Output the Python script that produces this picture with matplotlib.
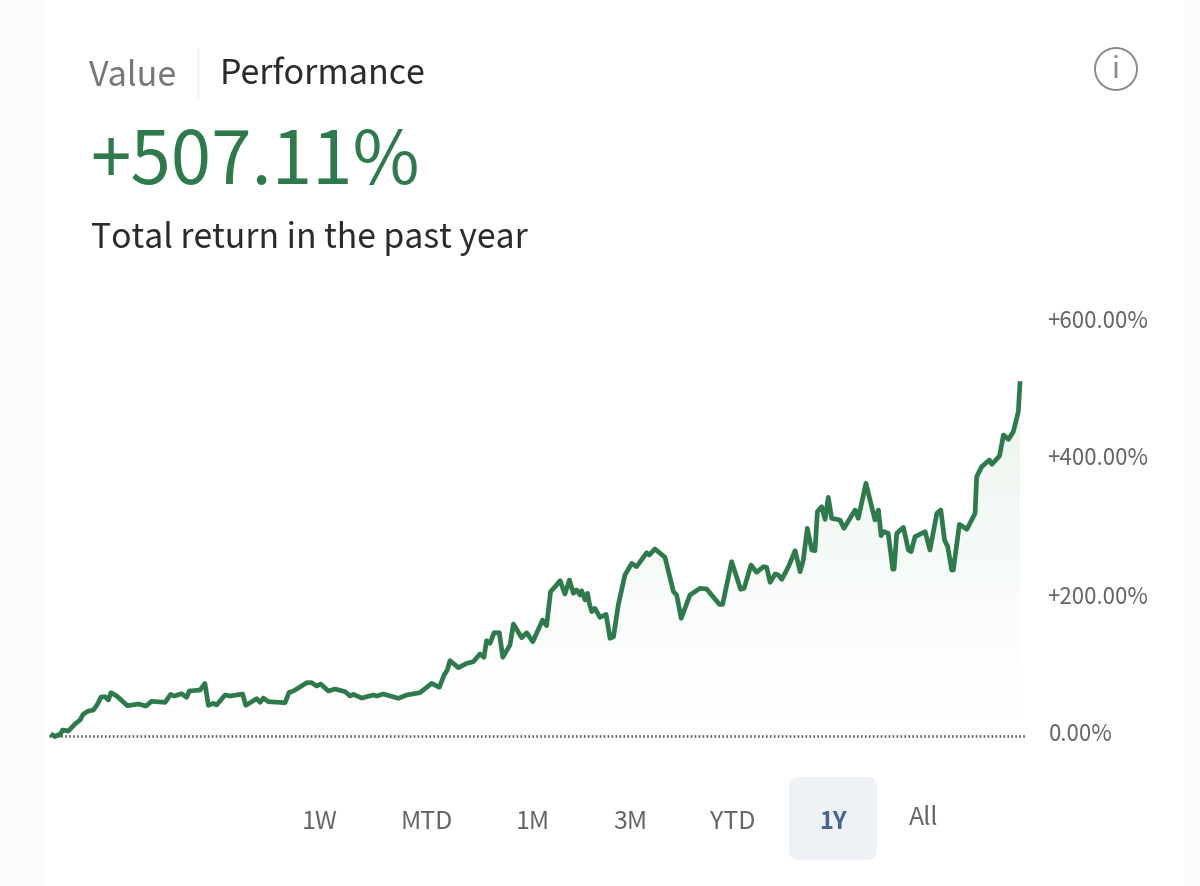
import numpy as np
import matplotlib
matplotlib.use("Agg")
import matplotlib.pyplot as plt
from matplotlib.patches import FancyBboxPatch, Circle, Polygon, Rectangle
from matplotlib.lines import Line2D
from matplotlib.transforms import ScaledTranslation

days = [0.25,1.13,2.0,3.0,4.0,6.15,8.66,10.55,11.8,13.7,15.6,17.1,18.5,20.0,21.2,22.2,24.4,28.4,32.5,35.4,37.5,42.6,44.7,46.0,48.8,50.7,51.7,55.8,57.6,58.9,60.8,62.0,65.2,67.1,71.8,73.0,77.1,78.4,79.6,81.5,87.8,89.3,90.9,96.0,97.8,99.7,101.2,104.1,106.6,110.4,112.3,113.5,116.7,121.1,122.3,124.8,130.5,133.6,138.6,143.0,145.9,147.7,148.9,149.9,153.1,156.2,158.7,161.2,162.7,163.7,165.0,166.5,168.5,169.8,172.5,173.8,176.9,178.8,181.1,
184.8,186.3,187.8,189.5,191.4,193.2,194.9,196.4,197.6,198.9,199.5,200.8,201.7,202.4,203.3,204.5,206.4,208.7,210.2,211.5,213.3,215.8,218.4,220.2,224.0,225.0,227.1,230.9,234.1,235.3,237.0,240.3,244.1,246.6,251.4,252.6,256.0,259.4,260.7,263.3,265.4,268.0,269.2,270.5,272.4,273.6,274.9,277.4,279.9,281.8,283.0,284.5,286.2,287.4,288.3,289.9,291.2,292.4,293.7,296.8,298.3,302.5,303.7,306.6,310.0,311.3,312.3,313.4,315.0,316.7,317.2,318.2,320.7,322.6,323.6,325.1,328.9,330.7,333.3,334.8,336.2,337.4,338.9,339.5,341.8,344.6,347.7,348.3,350.2,353.1,354.0,356.9,358.4,360.3,362.1,364.0,364.6]
returns = [1.4,-1.0,1.4,1.4,8.6,7.2,17.2,23.0,31.6,35.9,37.4,45.5,56.1,56.6,51.8,62.3,57.5,43.6,46.0,43.1,49.9,48.4,59.9,57.5,60.9,55.6,64.7,66.2,75.7,44.1,47.0,44.6,59.0,57.5,60.4,44.1,53.7,48.4,54.6,49.4,47.9,62.8,64.7,76.7,76.7,71.9,74.8,64.7,67.6,63.8,57.5,59.9,54.6,59.0,57.5,60.4,54.2,59.0,62.3,75.7,70.0,87.7,94.9,108.4,98.3,104.5,106.9,118.0,113.2,137.1,133.3,148.6,148.6,113.2,130.9,161.1,141.4,148.6,135.7,
166.9,158.7,207.7,214.8,223.5,204.3,224.5,205.3,210.1,202.9,209.1,195.7,205.3,190.9,178.9,183.7,170.7,175.1,140.5,142.9,188.5,231.6,248.4,243.6,263.8,260.4,269.1,257.1,207.7,202.9,169.3,202.9,212.5,211.5,189.4,189.4,250.8,211.0,212.5,246.0,235.5,243.6,242.7,221.1,233.1,231.6,225.4,243.6,266.6,236.4,253.2,298.8,267.6,266.6,322.8,330.0,311.7,343.4,313.2,310.8,298.8,325.2,313.2,363.5,310.8,325.2,288.2,294.0,291.6,239.8,240.3,291.6,300.2,267.6,265.2,286.8,294.0,267.6,320.4,325.2,282.0,272.4,238.8,238.8,304.5,297.4,320.4,373.1,387.5,397.1,390.9,402.9,433.1,426.8,437.9,466.6,507.11]
y_ticks = [0, 200, 400, 600]
y_labels = ["0.00%", "+200.00%", "+400.00%", "+600.00%"]
ranges = ["1W", "MTD", "1M", "3M", "YTD", "1Y", "All"]
range_x = [320, 427, 533, 630, 733, 833, 924]

W, H = 1200, 886
FONT = ["Noto Sans CJK JP", "DejaVu Sans"]
GREEN = "#2f7a4d"

fig = plt.figure(figsize=(W / 100, H / 100), dpi=100, facecolor="#fbfbfb")
fig.add_artist(Rectangle((45, 0), 1140, H, transform=None, facecolor="white", edgecolor="none", zorder=-5))
ax = fig.add_axes([52 / W, (H - 736) / H, 969 / W, 417 / H])
ax.set_xlim(0, 365)
ax.set_ylim(0, 600)
ax.patch.set_alpha(0)
for s in ax.spines.values():
    s.set_visible(False)
ax.set_xticks([])
ax.yaxis.tick_right()
ax.set_yticks(y_ticks)
ax.set_yticklabels(y_labels, family=FONT, fontsize=16, color="#666666")
ax.tick_params(axis="y", length=0, pad=18.5)
label_shift = [(2.0, 4.0), (0, 2.2), (0, 2.2), (0, 0)]
for lab, (dx, dy) in zip(ax.get_yticklabels(), label_shift):
    lab.set_transform(lab.get_transform() + ScaledTranslation(dx / 100, dy / 100, fig.dpi_scale_trans))

# gradient area under the curve: opaque white-to-pale-green ramp, clipped to the curve
t = np.linspace(0, 1, 512)
strength = np.clip((t - 0.05) / 0.95, 0, 1) ** 1.25 * 0.42
rgb = np.ones((512, 1, 3))
rgb[:, 0, 0] = 1 - strength * 0.20
rgb[:, 0, 1] = 1 - strength * 0.10
rgb[:, 0, 2] = 1 - strength * 0.18
im = ax.imshow(rgb, extent=(0, 365, 0, 507), origin="lower", aspect="auto", zorder=1)
poly = Polygon(np.r_[[[days[0], 0]], np.c_[days, returns], [[days[-1], 0]]], transform=ax.transData,
               facecolor="none", edgecolor="none")
ax.add_patch(poly)
im.set_clip_path(poly)
ax.set_xlim(0, 365)
ax.set_ylim(0, 600)

ax.plot([-1, 367], [0, 0], color="#5a5a5a", lw=1.9, ls=(0, (0.6, 0.9)), clip_on=False, zorder=2)
ax.plot(days, returns, color=GREEN, lw=3.4, solid_joinstyle="round", clip_on=False, zorder=3)

def T(x, y, s, **kw):
    kw.setdefault("family", FONT)
    kw.setdefault("va", "center")
    fig.text(x / W, 1 - y / H, s, **kw)

T(89, 76, "Value", fontsize=24.5, color="#777777")
T(220, 75, "Performance", fontsize=24.5, color="#2b2b2b")
fig.add_artist(Line2D([198 / W, 198 / W], [1 - 48 / H, 1 - 97 / H], color="#ececec", lw=1))
T(90, 163, "+507.11%", fontsize=52.4, color=GREEN)
T(91, 239, "Total return in the past year", fontsize=24.3, color="#2b2b2b")

# info icon
fig.add_artist(Circle((1116, H - 69), 21, transform=None, facecolor="none", edgecolor="#8a8a8a", lw=1.4))
T(1116, 70, "i", fontsize=21, color="#8a8a8a", ha="center")

# range selector
fig.add_artist(FancyBboxPatch((797, H - 852), 72, 67, boxstyle="round,pad=8,rounding_size=10", transform=None,
                              facecolor="#eef1f6", edgecolor="none"))
for lab, x in zip(ranges, range_x):
    active = lab == "1Y"
    T(x, 822 if lab != "All" else 818, lab, fontsize=17 if active else 18, ha="center",
      color="#4a6491" if active else "#666666", fontweight="bold" if active else "normal")

fig.savefig("out.png", dpi=100, facecolor=fig.get_facecolor())
